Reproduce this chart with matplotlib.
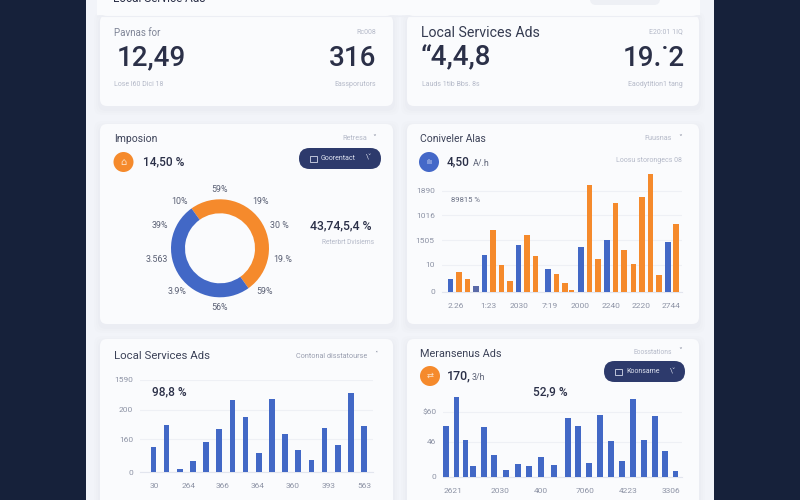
import matplotlib
matplotlib.use('Agg')
import matplotlib.pyplot as plt
from matplotlib.patches import FancyBboxPatch, Circle, Rectangle

plt.rcParams['font.family'] = ['Roboto', 'DejaVu Sans']

BLUE = '#4268c6'
ORANGE = '#f58a2c'
NAVY = '#2d3a6c'
DARK = '#2b3048'
GREY = '#8a90a2'
FAINT = '#b4b9c8'
TICK = '#8d93a5'
GRID = '#eef0f5'

# conversion chart (grouped bars, top right)
conv_x = [0, 1, 2, 3, 4, 5, 6, 7, 8, 9, 10, 11.5, 12.5, 13.5, 14.3, 15.4, 16.4, 17.4,
          18.5, 19.5, 20.5, 21.6, 22.6, 23.6, 24.6, 25.7, 26.6]
conv_values = [37, 60, 39, 18, 109, 186, 80, 31, 139, 170, 107, 67, 53, 27, 6, 134, 320, 98,
               154, 267, 126, 83, 284, 353, 50, 150, 204]
conv_series = ['b', 'o', 'o', 'd', 'b', 'o', 'o', 'o', 'b', 'o', 'o', 'b', 'o', 'o', 'o', 'b', 'o', 'o',
               'b', 'o', 'o', 'o', 'o', 'o', 'o', 'b', 'o']
conv_yticks = [0, 81, 155, 229, 303]
conv_ylabels = ['0', '10', '1505', '1016', '1890']
conv_xticks = [0.63, 4.4, 8.05, 11.7, 15.3, 18.9, 22.5, 26.06]
conv_xlabels = ['2.26', '1:23', '2030', '7:19', '2000', '2240', '2220', '2744']

# local services chart (bottom left)
local_values = [81, 155, 11, 36, 100, 141, 235, 180, 62, 239, 126, 72, 40, 143, 89, 259, 151]
local_yticks = [0, 107, 203, 300]
local_ylabels = ['0', '160', '200', '1590']
local_xticks = [0.08, 2.66, 5.28, 7.94, 10.6, 13.3, 16]
local_xlabels = ['30', '264', '366', '364', '360', '393', '563']

# third chart (bottom right)
mer_x = [0, 0.97, 1.8, 2.5, 3.5, 4.4, 5.5, 6.6, 7.6, 8.7, 9.9, 11.2, 12.1, 13.1, 14.1, 15.1,
         16.1, 17.1, 18.1, 19.1, 20, 21]
mer_values = [151, 239, 111, 33, 149, 66, 20, 39, 32, 58, 35, 177, 153, 40, 184, 107, 48, 232,
              111, 183, 77, 17]
mer_yticks = [0, 105, 195]
mer_ylabels = ['0', '46', '$60']
mer_xticks = [0.66, 4.94, 8.7, 12.7, 16.7, 20.6]
mer_xlabels = ['2621', '2030', '400', '7060', '4223', '3306']

# donut
donut_values = [50, 50]
donut_labels = ['59%', '19%', '30 %', '19.%', '59%', '56%', '3.9%', '3.563', '39%', '10%']
donut_label_pos = [(220, 189), (260, 201), (279, 226), (283, 260), (265, 292),
                   (220, 308), (177, 292), (157, 260), (160, 226), (179, 201)]

fig = plt.figure(figsize=(8, 5), dpi=100, facecolor='#16213a')
bg = fig.add_axes([0, 0, 1, 1])
bg.set_xlim(0, 800)
bg.set_ylim(500, 0)
bg.axis('off')


def txt(x, y, s, size=6, color=GREY, ha='left', weight='normal'):
    bg.text(x, y, s, fontsize=size, color=color, ha=ha, va='center', fontweight=weight, zorder=6)


def card(x0, y0, x1, y1):
    for grow, alpha in [(6, 0.006), (4, 0.008), (2, 0.012)]:
        bg.add_patch(FancyBboxPatch((x0 - grow, y0 - grow + 3), x1 - x0 + 2 * grow, y1 - y0 + 2 * grow,
                                    boxstyle='round,pad=0,rounding_size=8', fc='#2a3560', ec='none',
                                    alpha=alpha, zorder=2))
    bg.add_patch(FancyBboxPatch((x0, y0), x1 - x0, y1 - y0, boxstyle='round,pad=0,rounding_size=7',
                                fc='#fafbfd', ec='none', zorder=3))


def pill(x0, y0, x1, y1, s):
    bg.add_patch(FancyBboxPatch((x0, y0), x1 - x0, y1 - y0,
                                boxstyle='round,pad=0,rounding_size=%g' % ((y1 - y0) / 2),
                                fc=NAVY, ec='none', zorder=5))
    bg.add_patch(Rectangle((x0 + 11, (y0 + y1) / 2 - 3), 7, 6, fc='none', ec='#d5daea', lw=0.6, zorder=6))
    txt(x0 + 22, (y0 + y1) / 2, s, size=5, color='#dfe3f0')
    txt(x1 - 9, (y0 + y1) / 2, '\\˅', size=5, color='#dfe3f0', ha='right')


def bar_chart(rect, x, values, colors, xlim, ylim, yticks, ylabels, xticks, xlabels, width):
    left, top, right, bottom = rect
    ax = fig.add_axes([left / 800, 1 - bottom / 500, (right - left) / 800, (bottom - top) / 500])
    ax.patch.set_alpha(0)
    ax.bar(x, values, width=width, color=colors, zorder=3)
    ax.set_xlim(*xlim)
    ax.set_ylim(*ylim)
    ax.set_yticks(yticks, ylabels)
    ax.set_xticks(xticks, xlabels)
    ax.tick_params(axis='y', length=0, labelsize=6, labelcolor=TICK, pad=5)
    ax.tick_params(axis='x', length=0, labelsize=6, labelcolor=TICK, pad=8)
    ax.grid(axis='y', color=GRID, lw=0.8, zorder=0)
    ax.set_axisbelow(True)
    for name in ['top', 'left', 'right']:
        ax.spines[name].set_visible(False)
    ax.spines['bottom'].set_color('#e2e5ee')
    ax.spines['bottom'].set_linewidth(0.8)
    return ax


# page
bg.add_patch(Rectangle((86, 0), 628, 500, fc='#f2f4f9', ec='none', zorder=1))
bg.add_patch(Rectangle((97, -5), 603, 20, fc='#fafbfd', ec='none', zorder=3))
bg.add_patch(FancyBboxPatch((590, -8), 70, 13, boxstyle='round,pad=0,rounding_size=6', fc='#eef0f5',
                            ec='none', zorder=5))
txt(113, -1, 'Local Service Ads', size=8.5, color=DARK)
txt(684, 2, '˅', size=6, color=GREY)

card(100, 15, 393, 106)
card(407, 15, 699, 106)
card(100, 124, 393, 324)
card(407, 124, 699, 324)
card(100, 339, 393, 510)
card(407, 339, 699, 510)
bg.add_patch(Rectangle((97, 5), 603, 10, fc='#fafbfd', ec='none', zorder=3.5))
bg.plot([97, 700], [15.5, 15.5], color='#eceef4', lw=0.8, zorder=4)

# top stat cards
txt(114, 33, 'Pavnas for', size=7, color='#7e8496')
txt(376, 32, 'Rc008', size=5, color=FAINT, ha='right')
txt(117, 58, '12,49', size=20, color=DARK, weight='medium')
txt(376, 58, '316', size=20, color=DARK, ha='right', weight='medium')
txt(114, 85, 'Lose l60 Dici 18', size=5, color=FAINT)
txt(376, 85, 'Eassporutors', size=5, color=FAINT, ha='right')

txt(421, 33, 'Local Services Ads', size=10.2, color='#343a50')
txt(683, 32, 'E20:01 1IQ', size=5, color=FAINT, ha='right')
txt(421, 58, '“4,4,8', size=20, color=DARK, weight='medium')
txt(685, 58, '19.˙2', size=20, color=DARK, ha='right', weight='medium')
txt(422, 85, 'Lauds 1tib Bbs. 8s', size=5, color=FAINT)
txt(683, 85, 'Eaodytition1 tang', size=5, color=FAINT, ha='right')

# donut card
txt(114, 139.5, 'Imposion', size=7.5, color='#3c4258')
txt(367, 138.5, 'Retresa', size=5.2, color=FAINT, ha='right')
txt(376, 138.5, '˅', size=5.5, color=GREY, ha='right')
bg.add_patch(Circle((123.5, 162), 10, fc=ORANGE, ec='none', zorder=5))
txt(123.5, 162, '⌂', size=7, color='#fde3c8', ha='center')
txt(143, 162, '14,50 %', size=8.6, color=DARK, weight='medium')
pill(299, 148, 381, 169, 'Goorentact')
txt(310, 226, '43,74,5,4 %', size=8.8, color=DARK, weight='medium')
txt(374, 242, 'Reterbrt Dvisiems', size=4.8, color=FAINT, ha='right')

dx = fig.add_axes([170 / 800, 1 - 298.3 / 500, 100 / 800, 100 / 500])
dx.pie(donut_values, colors=[ORANGE, BLUE], startangle=125.5, counterclock=False, radius=49,
       wedgeprops=dict(width=14, edgecolor='none'))
dx.set_xlim(-50, 50)
dx.set_ylim(-50, 50)
dx.set_aspect('equal')
for s, (lx, ly) in zip(donut_labels, donut_label_pos):
    txt(lx, ly, s, size=6.4, color='#5a6074', ha='center')

# conversion card
txt(420, 139.5, 'Coniveler Alas', size=7.5, color='#3c4258')
txt(672, 139, 'Fuusnas', size=5.2, color=FAINT, ha='right')
txt(682, 139, '˅', size=5.5, color=GREY, ha='right')
bg.add_patch(Circle((429, 162), 10, fc='#4468c8', ec='none', zorder=5))
txt(429, 162, 'ılı', size=6, color='#dfe6fa', ha='center')
txt(447, 162, '4,50', size=8.6, color=DARK, weight='medium')
txt(473, 163, 'A/.h', size=6.4, color='#5a6074')
txt(682, 160, 'Loosu storongecs 08', size=5, color=FAINT, ha='right')
txt(451, 200, '89815 %', size=5.6, color='#6a7084')

conv_colors = [{'b': BLUE, 'o': ORANGE, 'd': '#5a6aa8'}[s] for s in conv_series]
bar_chart((441.7, 172, 681.7, 291.7), conv_x, conv_values, conv_colors,
          (-1.06, 27.3), (0, 359), conv_yticks, conv_ylabels, conv_xticks, conv_xlabels, 0.66)

# local services card
txt(114, 356, 'Local Services Ads', size=8.2, color='#3c4258')
txt(367, 356, 'Contonal disstatourse', size=5.2, color='#9a9fb0', ha='right')
txt(378, 355, '˟', size=5, color=GREY, ha='right')
txt(152, 392, '98,8 %', size=8.6, color=DARK, weight='medium')
bar_chart((140, 380, 373.3, 472.3), list(range(len(local_values))), local_values, BLUE,
          (-1.02, 16.7), (0, 300), local_yticks, local_ylabels, local_xticks, local_xlabels, 0.43)

# bottom right card
txt(420, 354, 'Meransenus Ads', size=7.8, color='#3c4258')
txt(672, 352, 'Eoosstations', size=4.8, color=FAINT, ha='right')
txt(682, 352, '˅', size=5.5, color=GREY, ha='right')
bg.add_patch(Circle((430, 376), 10, fc=ORANGE, ec='none', zorder=5))
txt(430, 376, '⇄', size=6, color='#fde3c8', ha='center')
txt(447, 376, '170,', size=9, color=DARK, weight='medium')
txt(472, 377, '3/h', size=6.4, color='#5a6074')
pill(604, 361, 685, 382, 'Koonsame')
txt(533, 392, '52,9 %', size=8.6, color=DARK, weight='medium')
bar_chart((443.3, 396, 681.7, 476.7), mer_x, mer_values, BLUE,
          (-0.23, 21.56), (0, 242), mer_yticks, mer_ylabels, mer_xticks, mer_xlabels, 0.53)

fig.savefig('out.png', dpi=100, facecolor=fig.get_facecolor())
